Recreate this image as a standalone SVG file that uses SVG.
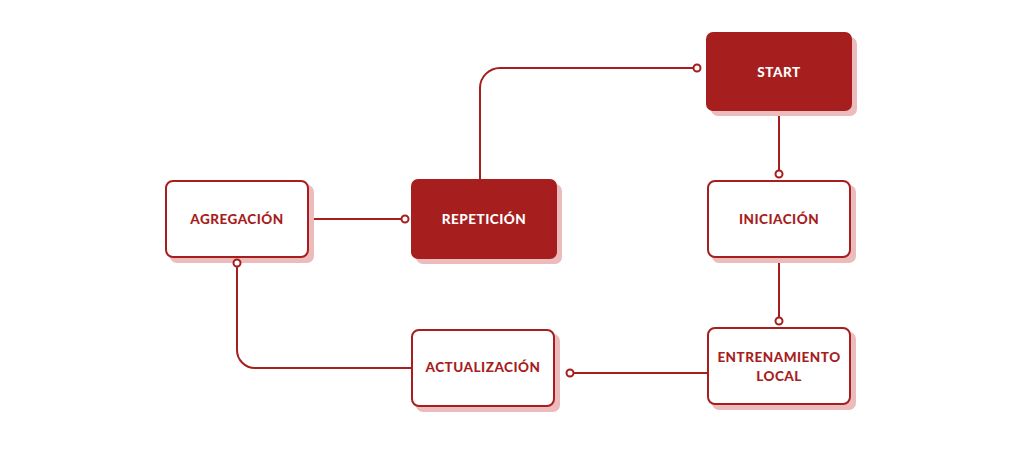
<svg xmlns="http://www.w3.org/2000/svg" width="1024" height="450" viewBox="0 0 1024 450">
<style>
.sh{fill:#ecbcbc}
.fill{fill:#a61e1e}
.out{fill:#fff;stroke:#a61e1e;stroke-width:2}
.t{font-family:Lato,"Liberation Sans",sans-serif;font-weight:900;font-size:13.5px;text-anchor:middle;letter-spacing:0.5px}
.tw{fill:#fff}
.tr{fill:#a61e1e}
.c{fill:none;stroke:#a61e1e;stroke-width:2}
.dot{fill:#fff;stroke:#a61e1e;stroke-width:2}
</style>
<rect width="1024" height="450" fill="#fff"/>
<g id="start">
<rect class="sh" x="711" y="37" width="146" height="79" rx="7"/>
<rect class="fill" x="706" y="32" width="146" height="79" rx="7"/>
<text class="t tw" x="779" y="76.5">START</text>
</g>
<g id="repeticion">
<rect class="sh" x="416" y="184" width="146" height="80" rx="7"/>
<rect class="fill" x="411" y="179" width="146" height="80" rx="7"/>
<text class="t tw" x="484" y="223.5">REPETICIÓN</text>
</g>
<g id="agregacion">
<rect class="sh" x="170" y="185" width="144" height="78" rx="7"/>
<rect class="out" x="166" y="181" width="142" height="76" rx="7"/>
<text class="t tr" x="237" y="223.5">AGREGACIÓN</text>
</g>
<g id="iniciacion">
<rect class="sh" x="712" y="185" width="144" height="78" rx="7"/>
<rect class="out" x="708" y="181" width="142" height="76" rx="7"/>
<text class="t tr" x="779" y="223.5">INICIACIÓN</text>
</g>
<g id="entrenamiento">
<rect class="sh" x="712" y="332" width="144" height="78" rx="7"/>
<rect class="out" x="708" y="328" width="142" height="76" rx="7"/>
<text class="t tr" x="779" y="362">ENTRENAMIENTO</text>
<text class="t tr" x="779" y="381">LOCAL</text>
</g>
<g id="actualizacion">
<rect class="sh" x="416" y="334" width="144" height="78" rx="7"/>
<rect class="out" x="412" y="330" width="142" height="76" rx="7"/>
<text class="t tr" x="483" y="372">ACTUALIZACIÓN</text>
</g>
<g id="connectors">
<path class="c" d="M697,68 H500 A20,20 0 0 0 480,88 V179"/>
<path class="c" d="M779,116 V174"/>
<path class="c" d="M779,263 V321"/>
<path class="c" d="M707,373 H570"/>
<path class="c" d="M411,368 H255 A18,18 0 0 1 237,350 V263"/>
<path class="c" d="M314,219 H405"/>
<circle class="dot" cx="697" cy="68" r="3.5"/>
<circle class="dot" cx="779" cy="174" r="3.5"/>
<circle class="dot" cx="779" cy="321" r="3.5"/>
<circle class="dot" cx="570" cy="373" r="3.5"/>
<circle class="dot" cx="237" cy="263" r="3.5"/>
<circle class="dot" cx="405" cy="219" r="3.5"/>
</g>
</svg>
